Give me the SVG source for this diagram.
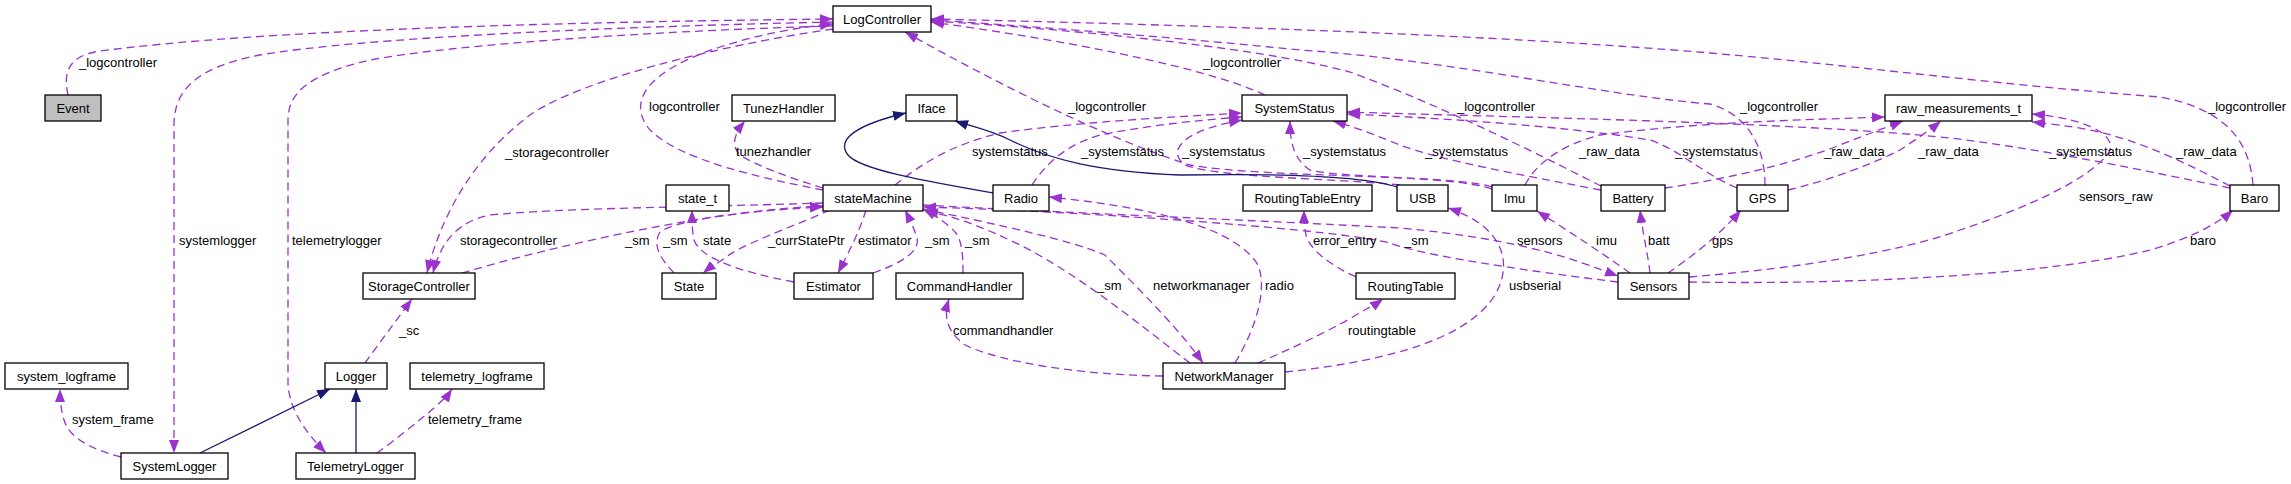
<svg xmlns="http://www.w3.org/2000/svg" width="2291" height="484" viewBox="0 0 2291 484">
<style>
text{font-family:"Liberation Sans",Arial,sans-serif;font-size:13px;fill:#000}
.n rect{fill:#fff;stroke:#000;stroke-width:1.3}
.n text{text-anchor:middle}
.g rect{fill:#bfbfbf}
.e{fill:none;stroke:#9a32cd;stroke-width:1.3;stroke-dasharray:8,5;marker-end:url(#pa)}
.i{fill:none;stroke:#191970;stroke-width:1.3;marker-end:url(#na)}
</style>
<defs>
<marker id="pa" markerUnits="userSpaceOnUse" markerWidth="13" markerHeight="10" refX="13" refY="5" orient="auto"><path d="M0,0 L13,5 L0,10 z" fill="#9a32cd"/></marker>
<marker id="na" markerUnits="userSpaceOnUse" markerWidth="13" markerHeight="10" refX="13" refY="5" orient="auto"><path d="M0,0 L13,5 L0,10 z" fill="#191970"/></marker>
</defs>
<rect width="2291" height="484" fill="#fff"/>
<g id="edges">
<path class="e" d="M68,95 C63,72 68,56 100,51 C260,30 560,22 833,19"/>
<path class="e" d="M823,190 C760,178 680,160 650,130 C625,100 650,70 720,47 C760,34 800,27 833,24"/>
<path class="e" d="M833,22 C600,27 360,38 260,55 C190,68 174,95 174,125 L174,453"/>
<path class="e" d="M833,26 C650,31 450,45 370,60 C305,75 288,95 288,120 L288,385 C290,410 305,432 326,453"/>
<path class="e" d="M833,29 C720,45 580,80 530,115 C470,160 440,220 427,273"/>
<path class="e" d="M823,203 C700,207 560,208 490,215 C455,222 440,245 433,273"/>
<path class="e" d="M462,273 C540,250 640,228 720,216 C770,209 800,207 823,206"/>
<path class="e" d="M674,273 C660,258 652,245 660,232 C680,218 760,210 823,207"/>
<path class="e" d="M794,282 C740,272 700,258 694,240 C692,230 692,220 692,210"/>
<path class="e" d="M830,210 C790,228 740,245 725,258 C715,265 708,269 703,273"/>
<path class="e" d="M866,210 C860,230 850,250 838,273"/>
<path class="e" d="M873,273 C905,262 920,250 917,238 C914,228 910,220 905,210"/>
<path class="e" d="M963,273 C963,255 962,240 955,232 C948,224 935,215 923,209"/>
<path class="e" d="M823,188 C790,178 755,165 740,155 C730,145 735,133 745,121"/>
<path class="e" d="M895,185 C920,165 950,145 1000,133 C1080,122 1170,117 1242,113"/>
<path class="e" d="M1032,185 C1045,165 1065,145 1100,135 C1150,125 1200,120 1242,117"/>
<path class="e" d="M1400,185 C1330,178 1220,178 1185,165 C1165,150 1185,130 1242,120"/>
<path class="e" d="M1492,189 C1455,176 1340,178 1310,170 C1295,160 1290,145 1290,121"/>
<path class="e" d="M1601,190 C1520,175 1440,160 1400,145 C1375,135 1355,127 1333,121"/>
<path class="e" d="M1737,188 C1700,172 1680,150 1650,140 C1560,125 1420,117 1347,114"/>
<path class="e" d="M2230,188 C2150,172 2050,150 1950,138 C1800,122 1500,117 1347,112"/>
<path class="e" d="M1265,95 C1200,65 1050,38 931,22"/>
<path class="e" d="M1492,187 C1455,174 1260,178 1190,165 C1110,140 1000,85 905,32"/>
<path class="e" d="M1601,186 C1530,150 1440,105 1350,72 C1250,45 1050,28 931,21"/>
<path class="e" d="M1765,185 C1765,150 1750,115 1710,104 C1600,95 1450,60 1300,50 C1150,35 1000,24 931,20"/>
<path class="e" d="M2253,185 C2250,145 2230,110 2160,97 C2000,85 1850,65 1710,53 C1500,35 1200,25 931,19"/>
<path class="i" d="M993,193 C930,182 860,170 848,155 C836,140 855,125 906,113"/>
<path class="i" d="M1397,187 C1370,178 1300,173 1180,175 C1100,172 1050,160 1010,140 C990,130 970,126 955,121"/>
<path class="e" d="M1525,185 C1535,165 1560,145 1600,135 C1700,122 1800,120 1885,117"/>
<path class="e" d="M1665,188 C1720,180 1790,165 1840,145 C1865,135 1885,128 1903,121"/>
<path class="e" d="M1788,190 C1830,180 1870,165 1900,150 C1915,140 1930,130 1941,121"/>
<path class="e" d="M2230,186 C2190,165 2140,140 2090,130 C2070,126 2050,124 2032,122"/>
<path class="e" d="M1689,277 C1800,268 1900,252 1960,230 C2050,200 2100,170 2110,150 C2115,132 2080,118 2032,114"/>
<path class="e" d="M1689,282 C1850,285 2050,275 2150,250 C2185,240 2215,226 2233,210"/>
<path class="e" d="M1668,273 C1690,258 1720,235 1741,210"/>
<path class="e" d="M1650,273 C1648,255 1643,235 1640,210"/>
<path class="e" d="M1630,273 C1605,255 1570,232 1537,211"/>
<path class="e" d="M923,205 C1050,212 1250,220 1400,228 C1530,240 1580,262 1618,276"/>
<path class="e" d="M1618,282 C1520,270 1420,255 1390,243 C1340,230 1100,212 923,207"/>
<path class="e" d="M923,209 C1000,225 1070,240 1105,255 C1140,290 1180,330 1203,363"/>
<path class="e" d="M1190,363 C1140,325 1080,275 1020,245 C985,228 955,216 925,211"/>
<path class="e" d="M1235,363 C1255,330 1268,290 1258,265 C1240,235 1180,210 1049,197"/>
<path class="e" d="M1163,376 C1080,375 1000,362 965,345 C945,330 944,315 949,299"/>
<path class="e" d="M1356,277 C1330,265 1310,250 1306,235 C1304,225 1304,218 1304,210"/>
<path class="e" d="M1258,363 C1300,345 1340,325 1356,315 C1368,308 1376,304 1383,299"/>
<path class="e" d="M1285,372 C1400,360 1470,335 1495,295 C1515,260 1500,225 1448,208"/>
<path class="e" d="M365,363 C378,345 395,322 412,299"/>
<path class="e" d="M121,457 C95,450 70,440 64,420 C61,410 60,400 60,389"/>
<path class="e" d="M377,453 C395,440 420,420 434,408 C443,400 448,395 452,389"/>
<path class="i" d="M200,453 L330,389"/>
<path class="i" d="M356,453 L356,389"/>
</g>
<g id="edge-labels">
<text x="79" y="67">_logcontroller</text>
<text x="179" y="245">systemlogger</text>
<text x="292" y="245">telemetrylogger</text>
<text x="505" y="157">_storagecontroller</text>
<text x="460" y="245">storagecontroller</text>
<text x="625" y="245">_sm</text>
<text x="663" y="245">_sm</text>
<text x="703" y="245">state</text>
<text x="768" y="245">_currStatePtr</text>
<text x="858" y="245">estimator</text>
<text x="925" y="245">_sm</text>
<text x="965" y="245">_sm</text>
<text x="649" y="111">logcontroller</text>
<text x="736" y="156">tunezhandler</text>
<text x="972" y="156">systemstatus</text>
<text x="1081" y="156">_systemstatus</text>
<text x="1068" y="111">_logcontroller</text>
<text x="1203" y="67">_logcontroller</text>
<text x="1182" y="156">_systemstatus</text>
<text x="1303" y="156">_systemstatus</text>
<text x="1457" y="111">_logcontroller</text>
<text x="1425" y="156">_systemstatus</text>
<text x="1579" y="156">_raw_data</text>
<text x="1675" y="156">_systemstatus</text>
<text x="1740" y="111">_logcontroller</text>
<text x="1824" y="156">_raw_data</text>
<text x="1918" y="156">_raw_data</text>
<text x="2049" y="156">_systemstatus</text>
<text x="2176" y="156">_raw_data</text>
<text x="2208" y="111">_logcontroller</text>
<text x="2079" y="201">sensors_raw</text>
<text x="1313" y="245">error_entry</text>
<text x="1404" y="245">_sm</text>
<text x="1517" y="245">sensors</text>
<text x="1596" y="245">imu</text>
<text x="1648" y="245">batt</text>
<text x="1712" y="245">gps</text>
<text x="2190" y="245">baro</text>
<text x="1097" y="290">_sm</text>
<text x="1153" y="290">networkmanager</text>
<text x="1265" y="290">radio</text>
<text x="1509" y="290">usbserial</text>
<text x="953" y="335">commandhandler</text>
<text x="1348" y="335">routingtable</text>
<text x="399" y="335">_sc</text>
<text x="72" y="424">system_frame</text>
<text x="428" y="424">telemetry_frame</text>
</g>
<g id="node-LogController" class="n"><rect x="833" y="6" width="98" height="26"/><text x="882" y="23.5">LogController</text></g>
<g id="node-Event" class="n g"><rect x="45" y="95" width="56" height="26"/><text x="73" y="112.5">Event</text></g>
<g id="node-TunezHandler" class="n"><rect x="732" y="95" width="103" height="26"/><text x="783.5" y="112.5">TunezHandler</text></g>
<g id="node-Iface" class="n"><rect x="906" y="95" width="51" height="26"/><text x="931.5" y="112.5">Iface</text></g>
<g id="node-SystemStatus" class="n"><rect x="1242" y="95" width="105" height="26"/><text x="1294.5" y="112.5">SystemStatus</text></g>
<g id="node-raw_measurements_t" class="n"><rect x="1885" y="95" width="147" height="26"/><text x="1958.5" y="112.5">raw_measurements_t</text></g>
<g id="node-state_t" class="n"><rect x="666" y="185" width="63" height="26"/><text x="697.5" y="202.5">state_t</text></g>
<g id="node-stateMachine" class="n"><rect x="823" y="185" width="100" height="26"/><text x="873" y="202.5">stateMachine</text></g>
<g id="node-Radio" class="n"><rect x="993" y="185" width="56" height="26"/><text x="1021" y="202.5">Radio</text></g>
<g id="node-RoutingTableEntry" class="n"><rect x="1243" y="185" width="129" height="26"/><text x="1307.5" y="202.5">RoutingTableEntry</text></g>
<g id="node-USB" class="n"><rect x="1397" y="185" width="51" height="26"/><text x="1422.5" y="202.5">USB</text></g>
<g id="node-Imu" class="n"><rect x="1492" y="185" width="45" height="26"/><text x="1514.5" y="202.5">Imu</text></g>
<g id="node-Battery" class="n"><rect x="1601" y="185" width="64" height="26"/><text x="1633" y="202.5">Battery</text></g>
<g id="node-GPS" class="n"><rect x="1737" y="185" width="51" height="26"/><text x="1762.5" y="202.5">GPS</text></g>
<g id="node-Baro" class="n"><rect x="2230" y="185" width="49" height="26"/><text x="2254.5" y="202.5">Baro</text></g>
<g id="node-StorageController" class="n"><rect x="363" y="273" width="112" height="26"/><text x="419" y="290.5">StorageController</text></g>
<g id="node-State" class="n"><rect x="662" y="273" width="54" height="26"/><text x="689" y="290.5">State</text></g>
<g id="node-Estimator" class="n"><rect x="794" y="273" width="79" height="26"/><text x="833.5" y="290.5">Estimator</text></g>
<g id="node-CommandHandler" class="n"><rect x="896" y="273" width="127" height="26"/><text x="959.5" y="290.5">CommandHandler</text></g>
<g id="node-RoutingTable" class="n"><rect x="1356" y="273" width="99" height="26"/><text x="1405.5" y="290.5">RoutingTable</text></g>
<g id="node-Sensors" class="n"><rect x="1618" y="273" width="71" height="26"/><text x="1653.5" y="290.5">Sensors</text></g>
<g id="node-system_logframe" class="n"><rect x="5" y="363" width="123" height="26"/><text x="66.5" y="380.5">system_logframe</text></g>
<g id="node-Logger" class="n"><rect x="325" y="363" width="62" height="26"/><text x="356" y="380.5">Logger</text></g>
<g id="node-telemetry_logframe" class="n"><rect x="410" y="363" width="134" height="26"/><text x="477" y="380.5">telemetry_logframe</text></g>
<g id="node-NetworkManager" class="n"><rect x="1163" y="363" width="122" height="26"/><text x="1224" y="380.5">NetworkManager</text></g>
<g id="node-SystemLogger" class="n"><rect x="121" y="453" width="107" height="26"/><text x="174.5" y="470.5">SystemLogger</text></g>
<g id="node-TelemetryLogger" class="n"><rect x="296" y="453" width="119" height="26"/><text x="355.5" y="470.5">TelemetryLogger</text></g>
</svg>
